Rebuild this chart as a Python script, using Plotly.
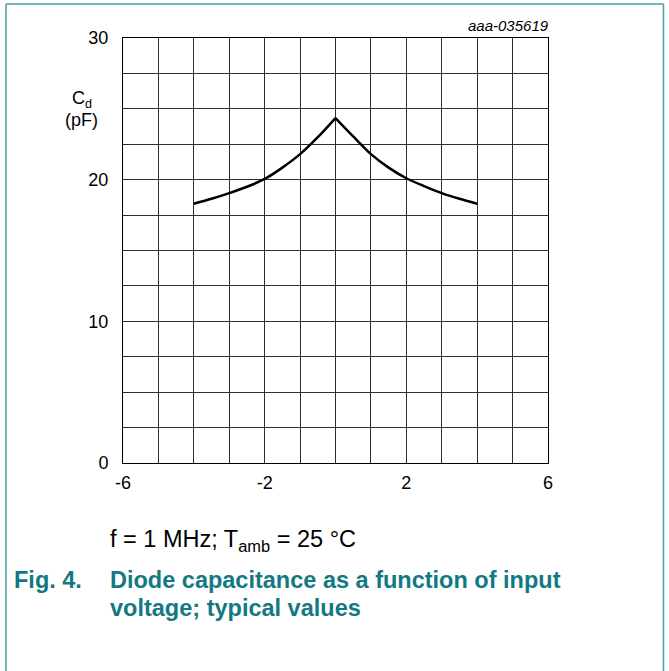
import plotly.graph_objects as go

# Data (two branches meeting at the peak at 0 V)
voltage_neg = [-4, -3.5, -3, -2.5, -2, -1.5, -1, -0.5, 0]
capacitance_neg = [18.3, 18.65, 19.05, 19.5, 20.05, 20.85, 21.8, 23.0, 24.35]
voltage_pos = [0, 0.5, 1, 1.5, 2, 2.5, 3, 3.5, 4]
capacitance_pos = [24.35, 23.05, 21.8, 20.85, 20.1, 19.55, 19.05, 18.65, 18.3]

x_grid = [-6, -5, -4, -3, -2, -1, 0, 1, 2, 3, 4, 5, 6]
x_labels = ["-6", "", "", "", "-2", "", "", "", "2", "", "", "", "6"]
y_grid = [0, 2.5, 5, 7.5, 10, 12.5, 15, 17.5, 20, 22.5, 25, 27.5, 30]
y_labels = ["0", "", "", "", "10", "", "", "", "20", "", "", "", "30"]

W, H = 669, 671
L, R, T, B = 123, 121, 38, 208
pw, ph = W - L - R, H - T - B


def px(xp):
    return (xp - L) / pw


def py(yp):
    return (H - B - yp) / ph


teal = "#127983"
border = "#4a9ea5"
font = "Liberation Sans, Arial, sans-serif"

fig = go.Figure()
for xs, ys in ((voltage_neg, capacitance_neg), (voltage_pos, capacitance_pos)):
    fig.add_trace(go.Scatter(x=xs, y=ys, mode="lines",
                             line=dict(color="black", width=2.5, shape="spline", smoothing=0.8),
                             showlegend=False, hoverinfo="skip"))

axis_common = dict(showgrid=True, gridcolor="#2e2e2e", gridwidth=1, zeroline=False,
                   showline=True, linecolor="black", linewidth=1, mirror=True,
                   ticks="", tickfont=dict(family=font, size=18, color="black"))

fig.update_xaxes(range=[-6, 6], tickmode="array", tickvals=x_grid, ticktext=x_labels,
                 ticklabelstandoff=3, **axis_common)
fig.update_yaxes(range=[0, 30], tickmode="array", tickvals=y_grid, ticktext=y_labels,
                 ticklabelstandoff=10, **axis_common)

annotations = [
    dict(x=px(82), y=py(99), xref="paper", yref="paper", text="C<sub>d</sub>",
         showarrow=False, xanchor="center", yanchor="middle",
         font=dict(family=font, size=18, color="black")),
    dict(x=px(81), y=py(120), xref="paper", yref="paper", text="(pF)",
         showarrow=False, xanchor="center", yanchor="middle",
         font=dict(family=font, size=18, color="black")),
    dict(x=px(551), y=py(25), xref="paper", yref="paper", text="<i>aaa-035619</i>",
         showarrow=False, xanchor="right", yanchor="middle",
         font=dict(family=font, size=15, color="black")),
    dict(x=px(108), y=py(540), xref="paper", yref="paper",
         text="f = 1 MHz; T<sub>amb</sub> = 25 °C",
         showarrow=False, xanchor="left", yanchor="middle",
         font=dict(family=font, size=23.5, color="black")),
    dict(x=px(12), y=py(580), xref="paper", yref="paper", text="<b>Fig. 4.</b>",
         showarrow=False, xanchor="left", yanchor="middle",
         font=dict(family=font, size=23.5, color=teal)),
    dict(x=px(108), y=py(580), xref="paper", yref="paper",
         text="<b>Diode capacitance as a function of input</b>",
         showarrow=False, xanchor="left", yanchor="middle",
         font=dict(family=font, size=23.5, color=teal)),
    dict(x=px(108), y=py(608), xref="paper", yref="paper",
         text="<b>voltage; typical values</b>",
         showarrow=False, xanchor="left", yanchor="middle",
         font=dict(family=font, size=23.5, color=teal)),
]

shapes = [
    dict(type="line", xref="paper", yref="paper", x0=px(6), x1=px(6), y0=py(4), y1=py(672),
         line=dict(color=border, width=1.5)),
    dict(type="line", xref="paper", yref="paper", x0=px(6), x1=px(663.5), y0=py(4), y1=py(4),
         line=dict(color=border, width=1.5)),
    dict(type="line", xref="paper", yref="paper", x0=px(663.5), x1=px(663.5), y0=py(4), y1=py(672),
         line=dict(color=border, width=1.5)),
]

fig.update_layout(width=W, height=H, margin=dict(l=L, r=R, t=T, b=B, autoexpand=False),
                  paper_bgcolor="white", plot_bgcolor="white",
                  annotations=annotations, shapes=shapes, showlegend=False)

fig.write_html("out.html", config={"displayModeBar": False},
               post_script="document.body.style.margin='0';document.body.style.overflow='hidden';")
